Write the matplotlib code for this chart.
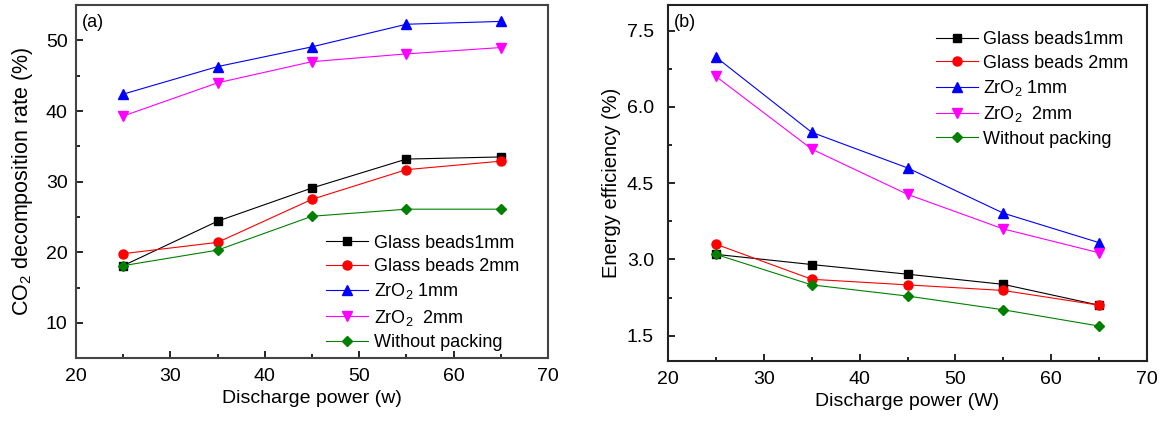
import matplotlib
matplotlib.use("Agg")
from matplotlib import pyplot as plt
from matplotlib.ticker import MultipleLocator

plt.rcParams["font.family"] = ["Liberation Sans", "DejaVu Sans"]
plt.rcParams["mathtext.fontset"] = "custom"
plt.rcParams["mathtext.rm"] = "Liberation Sans"
plt.rcParams["mathtext.it"] = "Liberation Sans:italic"

power = [25, 35, 45, 55, 65]
series_labels = ["Glass beads1mm", "Glass beads 2mm", "ZrO$_2$ 1mm", "ZrO$_2$  2mm", "Without packing"]

# (a) CO2 decomposition rate (%)
decomp_glass1 = [18.1, 24.4, 29.1, 33.2, 33.5]
decomp_glass2 = [19.8, 21.4, 27.5, 31.7, 32.9]
decomp_zro1 = [42.4, 46.3, 49.1, 52.3, 52.7]
decomp_zro2 = [39.3, 44.0, 47.0, 48.1, 49.0]
decomp_none = [18.1, 20.3, 25.1, 26.1, 26.1]

# (b) Energy efficiency (%)
eff_glass1 = [3.1, 2.9, 2.71, 2.51, 2.10]
eff_glass2 = [3.30, 2.61, 2.50, 2.39, 2.10]
eff_zro1 = [6.98, 5.50, 4.80, 3.91, 3.33]
eff_zro2 = [6.6, 5.17, 4.28, 3.6, 3.13]
eff_none = [3.10, 2.50, 2.28, 2.01, 1.69]

colors = ["black", "red", "blue", "magenta", "#008000"]
markers = ["s", "o", "^", "v", "D"]
msizes = [6, 6.5, 7, 7, 5.5]

fig = plt.figure(figsize=(11.67, 4.32), dpi=100)
ax_a = fig.add_axes([0.0651, 0.171, 0.4045, 0.817])
ax_b = fig.add_axes([0.5724, 0.164, 0.4105, 0.824])


def style_axes(ax, ypad, spine_color):
    for sp in ax.spines.values():
        sp.set_linewidth(1.5)
        sp.set_color(spine_color)
    ax.tick_params(which="both", direction="in", labelsize=14, width=1.2)
    ax.tick_params(which="major", length=5)
    ax.tick_params(which="minor", length=3)
    ax.tick_params(axis="x", which="both", pad=7)
    ax.tick_params(axis="y", which="both", pad=ypad)
    ax.xaxis.set_major_locator(MultipleLocator(10))
    ax.xaxis.set_minor_locator(MultipleLocator(5))
    ax.set_xlim(20, 70)


data_a = [decomp_glass1, decomp_glass2, decomp_zro1, decomp_zro2, decomp_none]
for vals, lab, c, m, ms in zip(data_a, series_labels, colors, markers, msizes):
    ax_a.plot(power, vals, "-", color=c, marker=m, markersize=ms, linewidth=0.8, label=lab)
style_axes(ax_a, 6, "#444444")
ax_a.set_ylim(5, 55)
ax_a.yaxis.set_major_locator(MultipleLocator(10))
ax_a.yaxis.set_minor_locator(MultipleLocator(5))
ax_a.set_xlabel("Discharge power (w)", fontsize=14)
ax_a.set_ylabel("CO$_2$ decomposition rate (%)", fontsize=15.5, labelpad=8)
ax_a.text(0.012, 0.975, "(a)", transform=ax_a.transAxes, fontsize=13, va="top", ha="left")
ax_a.legend(loc="lower left", frameon=False, fontsize=13, handlelength=2.3,
            labelspacing=0.35, handletextpad=0.35, borderaxespad=0,
            bbox_to_anchor=(0.515, 0.0))

data_b = [eff_glass1, eff_glass2, eff_zro1, eff_zro2, eff_none]
for vals, lab, c, m, ms in zip(data_b, series_labels, colors, markers, msizes):
    ax_b.plot(power, vals, "-", color=c, marker=m, markersize=ms, linewidth=0.8, label=lab)
style_axes(ax_b, 10, "#222222")
ax_b.set_ylim(1.0, 8.0)
ax_b.yaxis.set_major_locator(MultipleLocator(1.5))
ax_b.yaxis.set_minor_locator(MultipleLocator(0.75))
ax_b.set_xlabel("Discharge power (W)", fontsize=14)
ax_b.set_ylabel("Energy efficiency (%)", fontsize=14.5, labelpad=4)
ax_b.text(0.012, 0.975, "(b)", transform=ax_b.transAxes, fontsize=13, va="top", ha="left")
ax_b.legend(loc="upper left", frameon=False, fontsize=13, handlelength=2.3,
            labelspacing=0.35, handletextpad=0.3, borderaxespad=0,
            bbox_to_anchor=(0.545, 0.947))

fig.savefig("out.png", dpi=100)
